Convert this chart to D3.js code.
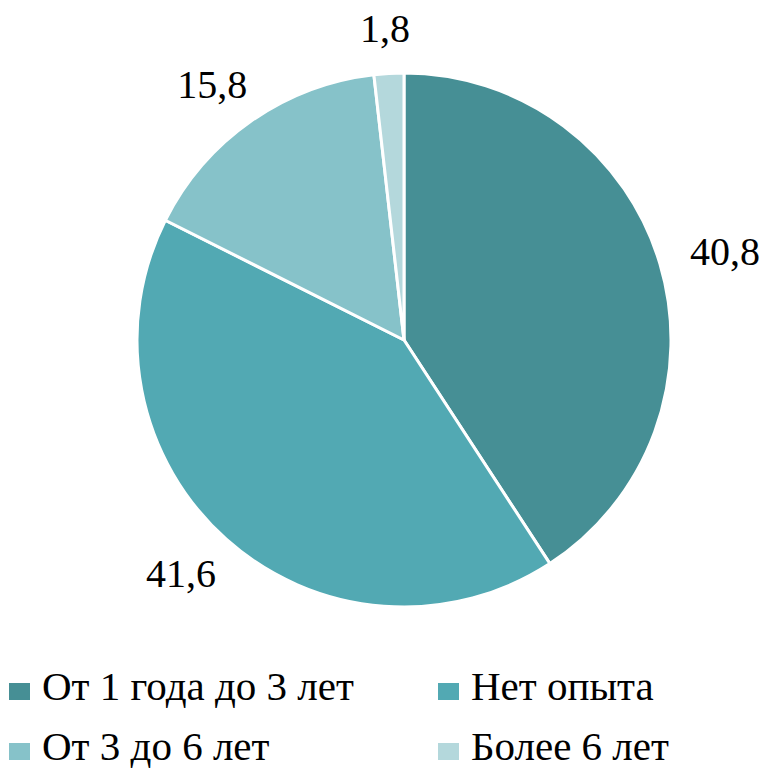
<!DOCTYPE html>
<html>
	<head>
		<meta charset="utf-8">
		<script src="https://d3js.org/d3.v7.min.js"></script>
	</head>
	<body style="margin:0">
		<script>
			// data
			var categories = ["От 1 года до 3 лет", "Нет опыта", "От 3 до 6 лет", "Более 6 лет"];
			var values = [40.8, 41.6, 15.8, 1.8];
			var labels = ["40,8", "41,6", "15,8", "1,8"];
			var colors = ["#468f95", "#52a9b3", "#86c2c9", "#b4d8dc"];

			var width = 761, height = 779;
			var cx = 404, cy = 340, radius = 267;
			var font = "'Liberation Serif', monospace";

			var svg = d3.select("body").append("svg")
				.attr("width", width)
				.attr("height", height);

			var color = d3.scaleOrdinal().domain(categories).range(colors);

			var pie = d3.pie().sort(null).value(function(d) { return d.value; });
			var data = categories.map(function(c, i) { return { name: c, value: values[i], label: labels[i] }; });

			var arc = d3.arc().innerRadius(0).outerRadius(radius);

			var g = svg.append("g").attr("transform", "translate(" + cx + "," + cy + ")");

			var slices = g.selectAll("g.slice")
				.data(pie(data))
				.enter().append("g").attr("class", "slice");

			slices.append("path")
				.attr("d", arc)
				.attr("fill", function(d) { return color(d.data.name); })
				.attr("stroke", "#fff")
				.attr("stroke-width", 3);

			// labels sit on an ellipse around the pie
			slices.append("text")
				.attr("transform", function(d) {
					var a = (d.startAngle + d.endAngle) / 2;
					return "translate(" + (Math.sin(a) * 335) + "," + (-Math.cos(a) * 312) + ")";
				})
				.attr("text-anchor", "middle")
				.attr("dy", "0.35em")
				.attr("font-family", font)
				.style("font-family", font, "important")
				.attr("font-size", 40)
				.attr("fill", "#000")
				.text(function(d) { return d.data.label; });

			// legend, 2 columns
			var item = svg.append("g").selectAll("g")
				.data(categories)
				.enter().append("g")
				.attr("transform", function(d, i) {
					var x = (i % 2) * 429 + 9;
					var y = Math.floor(i / 2) * 60 + 683;
					return "translate(" + x + "," + y + ")";
				});

			item.append("rect")
				.attr("width", 21)
				.attr("height", 17)
				.attr("fill", function(d) { return color(d); });

			item.append("text")
				.attr("x", 33)
				.attr("y", 17)
				.attr("font-family", font)
				.style("font-family", font, "important")
				.attr("font-size", 41)
				.attr("fill", "#000")
				.text(function(d) { return d; });
		</script>
	</body>
</html>
